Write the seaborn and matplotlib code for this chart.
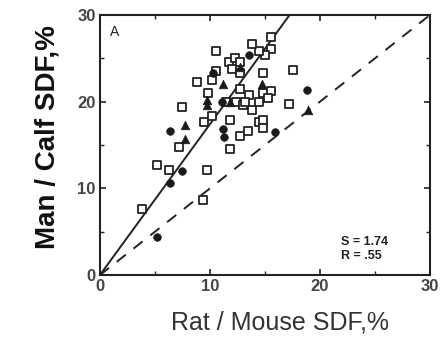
import numpy as np
import pandas as pd
import matplotlib
matplotlib.use("Agg")
import matplotlib.pyplot as plt
import seaborn as sns

# -------------------------------------------------------
# Data (x = Rat/Mouse SDF %, y = Man/Calf SDF %)
# -------------------------------------------------------
sq_x = [3.8, 5.2, 6.3, 9.7, 9.4, 7.2, 7.5, 9.5, 10.2, 11.8, 11.8, 12.7, 13.5, 14.5,
        11.5, 12.4, 13.0, 13.8, 17.6, 17.2, 14.8, 14.8, 14.8, 15.6, 14.8, 15.6,
        15.6, 15.0, 14.5, 10.6, 13.8, 11.7, 12.3, 12.7, 12.0, 12.7, 10.6, 8.8,
        10.2, 9.85, 12.7, 13.6, 13.2, 14.5, 15.3]
sq_y = [7.6, 12.7, 12.1, 12.1, 8.7, 14.8, 19.4, 17.7, 18.3, 17.9, 14.6, 16.1, 16.6, 17.7,
        20.0, 20.0, 19.6, 19.0, 23.7, 19.7, 17.9, 17.0, 21.0, 21.2, 23.3, 27.5,
        26.1, 25.4, 25.8, 25.8, 26.7, 24.6, 25.0, 24.6, 23.8, 23.3, 23.6, 22.3,
        22.5, 21.0, 21.5, 20.8, 20.0, 20.0, 20.4]

dot_x = [7.5, 6.4, 5.2, 6.4, 11.2, 11.3, 18.8, 15.9, 13.6, 10.3, 11.1]
dot_y = [12.0, 10.6, 4.4, 16.6, 16.8, 15.9, 21.3, 16.5, 25.4, 23.3, 20.0]

tri_x = [7.7, 7.7, 9.7, 11.2, 14.7, 18.9, 9.7, 11.8, 12.7]
tri_y = [17.3, 15.7, 19.6, 22.1, 22.1, 19.1, 20.2, 20.0, 24.0]

slope_fit = 1.74   # regression slope (S)
r_fit = 0.55       # correlation (R)

# -------------------------------------------------------
# Table for seaborn
# -------------------------------------------------------
df = pd.concat([
    pd.DataFrame({'x': sq_x, 'y': sq_y, 'grupa': 'sq'}),
    pd.DataFrame({'x': dot_x, 'y': dot_y, 'grupa': 'dot'}),
    pd.DataFrame({'x': tri_x, 'y': tri_y, 'grupa': 'tri'}),
], ignore_index=True)

sns.set_style("ticks")
plt.rcParams['font.family'] = ['Liberation Sans', 'DejaVu Sans']

fig = plt.figure(figsize=(4.4, 3.5), dpi=100)
ax = fig.add_axes([0.227, 0.214, 0.75, 0.743])

# open squares
sns.scatterplot(data=df[df['grupa'] == 'sq'], x='x', y='y', marker='s', s=40,
                facecolor='white', edgecolor='#222', linewidth=1.3, ax=ax, zorder=3)
# filled dots
sns.scatterplot(data=df[df['grupa'] == 'dot'], x='x', y='y', marker='o', s=30,
                color='#1a1a1a', edgecolor='#1a1a1a', linewidth=0.5, ax=ax, zorder=4)
# filled triangles
sns.scatterplot(data=df[df['grupa'] == 'tri'], x='x', y='y', marker='^', s=38,
                color='#1a1a1a', edgecolor='#1a1a1a', linewidth=0.5, ax=ax, zorder=4)

# regression line and identity line
xs = np.array([0, 30 / slope_fit])
ax.plot(xs, slope_fit * xs, color='#222', linewidth=1.4, zorder=2)
xi = np.array([0, 30])
ax.plot(xi, xi, color='#222', linewidth=1.4, linestyle=(0, (6, 5)), zorder=2)

ax.set_xlim(0, 30)
ax.set_ylim(0, 30)
ax.set_xticks([0, 10, 20, 30])
ax.set_yticks([0, 10, 20, 30])
ax.set_xticks(np.arange(0, 31, 5), minor=True)
ax.set_yticks(np.arange(0, 31, 5), minor=True)
ax.tick_params(which='both', direction='in', top=True, right=True, color='#222')
ax.tick_params(which='major', length=4, width=1.2, labelsize=12, labelcolor='#444', pad=3)
ax.tick_params(which='minor', length=3, width=1.0)
for lab in ax.get_xticklabels() + ax.get_yticklabels():
    lab.set_fontweight('bold')
for sp in ax.spines.values():
    sp.set_linewidth(1.5)
    sp.set_color('#222')

ax.set_xlabel('Rat / Mouse SDF,%', fontsize=18, labelpad=12, color='#333')
ax.xaxis.label.set_x(0.545)
ax.set_ylabel('Man / Calf SDF,%', fontsize=20, fontweight='bold', labelpad=12, color='#111')
ax.yaxis.label.set_y(0.53)

ax.text(0.03, 0.96, 'A', transform=ax.transAxes, fontsize=10, ha='left', va='top', color='#222')
ax.text(0.73, 0.10, f'S = {slope_fit:.2f}\nR = {str(r_fit)[1:]}', transform=ax.transAxes,
        fontsize=9, ha='left', va='center', color='#222', fontweight='bold', linespacing=1.3)

fig.savefig('out.png', dpi=100)
plt.close(fig)
